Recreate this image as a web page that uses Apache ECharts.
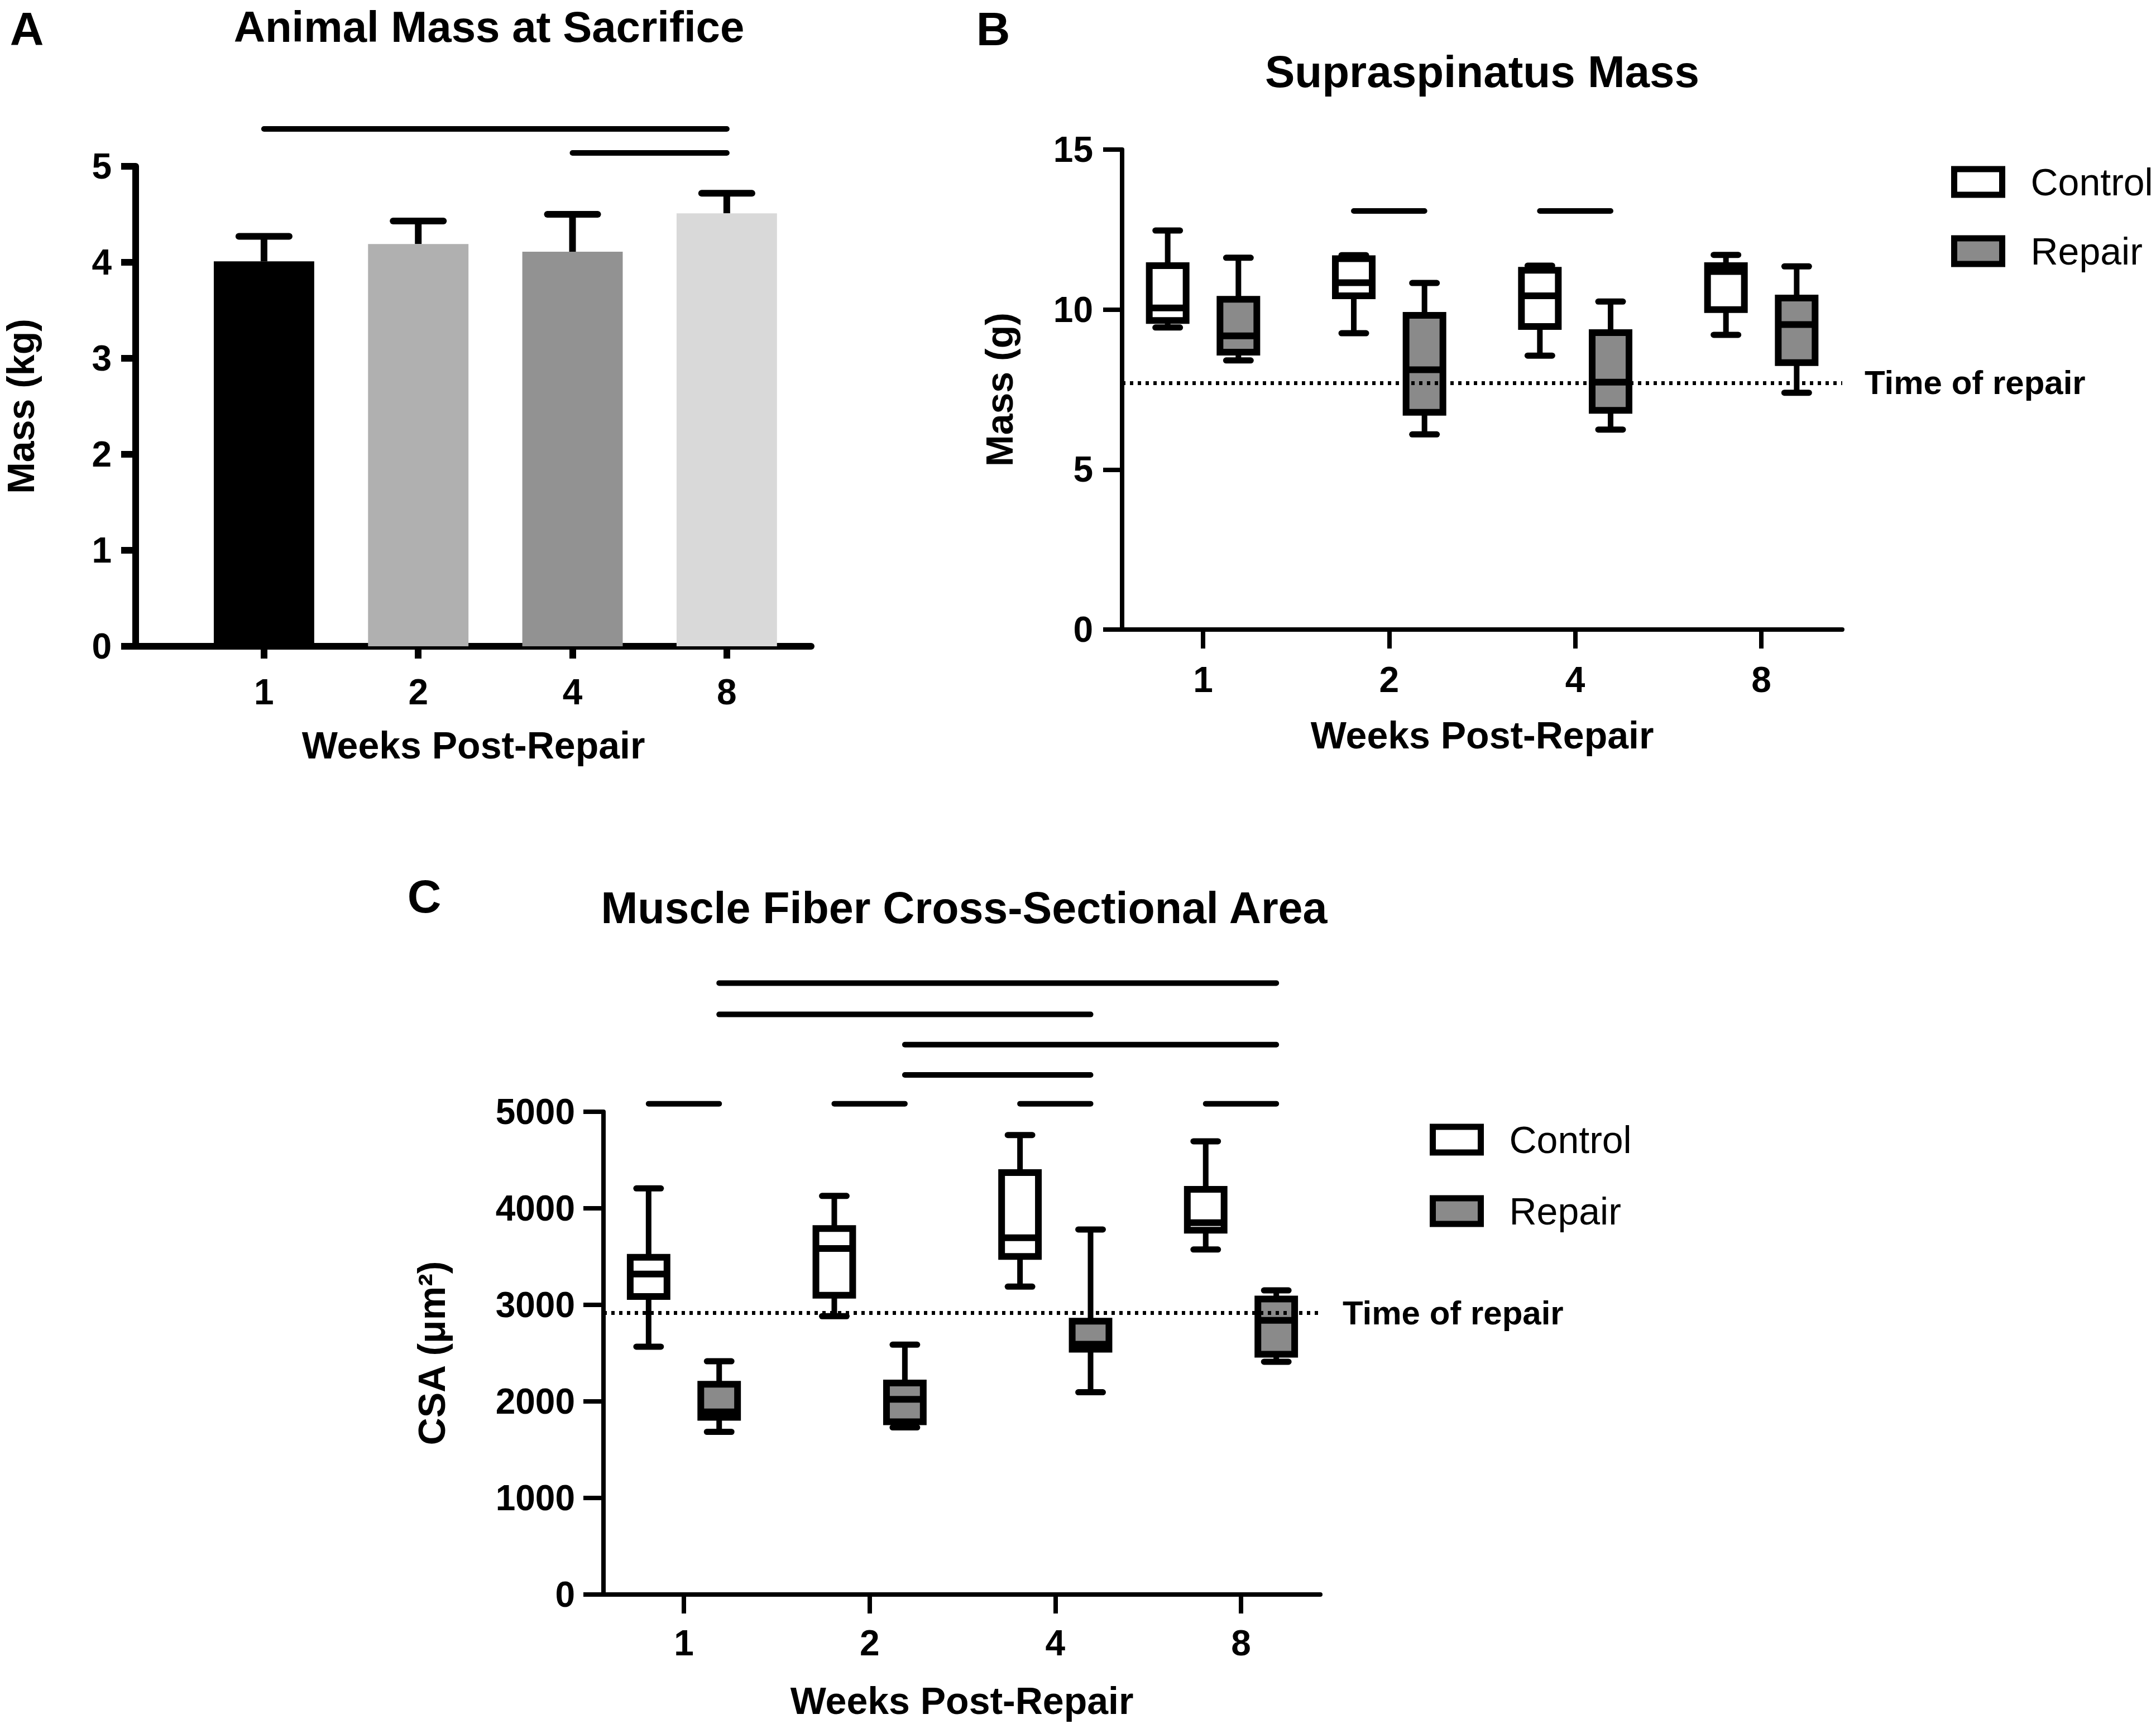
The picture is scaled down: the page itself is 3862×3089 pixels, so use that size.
<!DOCTYPE html>
<html>
<head>
<meta charset="utf-8">
<script src="https://cdn.jsdelivr.net/npm/echarts@6/dist/echarts.min.js"></script>
<style>
html, body { margin: 0; padding: 0; background: #fff; }
#main { width: 3862px; height: 3089px; }
</style>
</head>
<body>
<div id="main"></div>
<script>
// ---- data ----
var weeks = ['1', '2', '4', '8'];

// A: animal mass at sacrifice (kg): mean and top of error bar
var animalMass = [4.01, 4.19, 4.11, 4.51];
var animalMassErr = [4.27, 4.43, 4.50, 4.72];
var animalColors = ['#000000', '#b0b0b0', '#929292', '#d9d9d9'];
// [from week, to week, height]
var animalSig = [[0, 3, 5.39], [2, 3, 5.14]];

// B: supraspinatus mass (g): [min, q1, median, q3, max]
var supraControl = [
  [9.44, 9.66, 10.05, 11.37, 12.47],
  [9.26, 10.43, 10.84, 11.59, 11.70],
  [8.56, 9.47, 10.43, 11.23, 11.37],
  [9.21, 10.00, 11.19, 11.37, 11.71]
];
var supraRepair = [
  [8.41, 8.67, 9.18, 10.32, 11.62],
  [6.10, 6.79, 8.12, 9.82, 10.83],
  [6.25, 6.85, 7.73, 9.28, 10.25],
  [7.40, 8.34, 9.53, 10.36, 11.35]
];
var supraRepairTime = 7.71;
// [week, group, week, group, height]  group 0 = control, 1 = repair
var supraSig = [[1, 0, 1, 1, 13.08], [2, 0, 2, 1, 13.08]];

// C: muscle fiber CSA (um2): [min, q1, median, q3, max]
var csaControl = [
  [2567, 3086, 3319, 3493, 4206],
  [2883, 3099, 3584, 3791, 4128],
  [3189, 3501, 3695, 4370, 4759],
  [3573, 3773, 3851, 4196, 4694]
];
var csaRepair = [
  [1685, 1835, 1892, 2178, 2416],
  [1731, 1789, 2022, 2191, 2588],
  [2095, 2541, 2593, 2831, 3781],
  [2411, 2489, 2839, 3060, 3150]
];
var csaRepairTime = 2917;
var csaSig = [
  [0, 1, 3, 1, 6333], [0, 1, 2, 1, 6008], [1, 1, 3, 1, 5695], [1, 1, 2, 1, 5381],
  [0, 0, 0, 1, 5083], [1, 0, 1, 1, 5083], [2, 0, 2, 1, 5083], [3, 0, 3, 1, 5083]
];

// ---- drawing ----
var FONT = '"Liberation Sans", Arial, Helvetica, sans-serif';
var GROUP_OFF = 0.19;   // control / repair offset from week tick
var BOX_W = 0.198;
var CAP_W = 0.132;
var BAR_W = 0.651;
var ERR_CAP = 0.326;

var chart = echarts.init(document.getElementById('main'), null, { renderer: 'svg' });

function xAxisCfg(grid, min, max, labelMargin, nameGap, lw, tickLen) {
  return {
    gridIndex: grid, type: 'value', min: min, max: max,
    name: 'Weeks Post-Repair', nameLocation: 'middle', nameGap: nameGap,
    nameTextStyle: { fontSize: 68, fontWeight: 'bold', color: '#000', fontFamily: FONT },
    axisLine: { onZero: false, lineStyle: { color: '#000', width: lw } },
    axisTick: { customValues: [0, 1, 2, 3], length: tickLen, lineStyle: { color: '#000', width: lw } },
    axisLabel: {
      customValues: [0, 1, 2, 3], margin: labelMargin,
      formatter: function (v) { return weeks[Math.round(v)]; },
      fontSize: 64, fontWeight: 'bold', color: '#000', fontFamily: FONT
    },
    splitLine: { show: false }
  };
}

function yAxisCfg(grid, max, interval, name, labelMargin, nameGap, lw, tickLen) {
  return {
    gridIndex: grid, type: 'value', min: 0, max: max, interval: interval,
    name: name, nameLocation: 'middle', nameGap: nameGap,
    nameTextStyle: { fontSize: 68, fontWeight: 'bold', color: '#000', fontFamily: FONT },
    axisLine: { show: true, onZero: false, lineStyle: { color: '#000', width: lw } },
    axisTick: { show: true, length: tickLen, lineStyle: { color: '#000', width: lw } },
    axisLabel: { margin: labelMargin, fontSize: 64, fontWeight: 'bold', color: '#000', fontFamily: FONT,
      formatter: function (v) { return String(v); } },
    splitLine: { show: false }
  };
}

function barRender(params, api) {
  var i = api.value(0);
  var top = api.coord([i, api.value(1)]);
  var base = api.coord([i, 0]);
  var err = api.coord([i, api.value(2)]);
  var unit = api.size([1, 0])[0];
  var bw = unit * BAR_W / 2, cw = unit * ERR_CAP / 2;
  return {
    type: 'group', children: [
      { type: 'line', shape: { x1: top[0], y1: top[1], x2: top[0], y2: err[1] },
        style: { stroke: '#000', lineWidth: 12 } },
      { type: 'line', shape: { x1: top[0] - cw, y1: err[1], x2: top[0] + cw, y2: err[1] },
        style: { stroke: '#000', lineWidth: 12, lineCap: 'round' } },
      { type: 'rect', shape: { x: top[0] - bw, y: top[1], width: 2 * bw, height: base[1] - top[1] },
        style: { fill: api.visual('color') } }
    ]
  };
}

function boxRender(offset) {
  return function (params, api) {
    var i = api.value(0) + offset;
    var lo = api.coord([i, api.value(1)]);
    var q1 = api.coord([i, api.value(2)]);
    var md = api.coord([i, api.value(3)]);
    var q3 = api.coord([i, api.value(4)]);
    var hi = api.coord([i, api.value(5)]);
    var unit = api.size([1, 0])[0];
    var bw = unit * BOX_W / 2, cw = unit * CAP_W / 2;
    var x = lo[0];
    return {
      type: 'group', children: [
        { type: 'line', shape: { x1: x, y1: hi[1], x2: x, y2: q3[1] }, style: { stroke: '#000', lineWidth: 10 } },
        { type: 'line', shape: { x1: x, y1: q1[1], x2: x, y2: lo[1] }, style: { stroke: '#000', lineWidth: 10 } },
        { type: 'line', shape: { x1: x - cw, y1: hi[1], x2: x + cw, y2: hi[1] }, style: { stroke: '#000', lineWidth: 11, lineCap: 'round' } },
        { type: 'line', shape: { x1: x - cw, y1: lo[1], x2: x + cw, y2: lo[1] }, style: { stroke: '#000', lineWidth: 11, lineCap: 'round' } },
        { type: 'rect', shape: { x: x - bw, y: q3[1], width: 2 * bw, height: q1[1] - q3[1] },
          style: { fill: api.visual('color'), stroke: '#000', lineWidth: 12 } },
        { type: 'line', shape: { x1: x - bw, y1: md[1], x2: x + bw, y2: md[1] }, style: { stroke: '#000', lineWidth: 12 } }
      ]
    };
  };
}

function sigRenderA(params, api) {
  var a = api.coord([api.value(0), api.value(2)]);
  var b = api.coord([api.value(1), api.value(2)]);
  return { type: 'line', shape: { x1: a[0], y1: a[1], x2: b[0], y2: b[1] },
    style: { stroke: '#000', lineWidth: 10, lineCap: 'round' } };
}

function sigRenderGroups(params, api) {
  var x1 = api.value(0) + (api.value(1) ? GROUP_OFF : -GROUP_OFF);
  var x2 = api.value(2) + (api.value(3) ? GROUP_OFF : -GROUP_OFF);
  var a = api.coord([x1, api.value(4)]);
  var b = api.coord([x2, api.value(4)]);
  return { type: 'line', shape: { x1: a[0], y1: a[1], x2: b[0], y2: b[1] },
    style: { stroke: '#000', lineWidth: 10, lineCap: 'round' } };
}

function boxData(rows) {
  return rows.map(function (r, i) { return [i].concat(r); });
}

function refLine(xi, value) {
  return {
    type: 'line', xAxisIndex: xi, yAxisIndex: xi, data: [], silent: true,
    markLine: {
      silent: true, symbol: ['none', 'none'], animation: false,
      lineStyle: { color: '#000', width: 7, type: [6, 8] },
      label: { show: true, position: 'end', distance: 40, formatter: 'Time of repair',
        fontSize: 60, fontWeight: 'bold', color: '#000', fontFamily: FONT },
      data: [{ yAxis: value }]
    }
  };
}

function legendCfg(left, top, gap) {
  return {
    orient: 'vertical', left: left, top: top, padding: 0, selectedMode: false,
    data: ['Control', 'Repair'], icon: 'rect', itemWidth: 86, itemHeight: 46, itemGap: gap,
    itemStyle: { borderColor: '#000', borderWidth: 11 },
    textStyle: { fontSize: 68, color: '#000', fontFamily: FONT, padding: [0, 0, 0, 46] }
  };
}

function textEl(str, x, y, size, rotation) {
  return {
    type: 'text', x: x, y: y, rotation: rotation || 0,
    style: { text: str, fill: '#000', fontSize: size, fontWeight: 'bold', fontFamily: FONT,
      align: 'center', verticalAlign: 'middle', textAlign: 'center', textVerticalAlign: 'middle' }
  };
}

var option = {
  animation: false,
  backgroundColor: '#fff',
  grid: [
    { left: 243, top: 298, width: 1210, height: 860 },
    { left: 2010, top: 268, width: 1290, height: 860 },
    { left: 1081, top: 1992, width: 1284, height: 865 }
  ],
  xAxis: [
    xAxisCfg(0, -0.832, 3.547, 50, 143, 12, 22),
    xAxisCfg(1, -0.435, 3.435, 58, 155, 8, 34),
    xAxisCfg(2, -0.433, 3.427, 55, 156, 8, 34)
  ],
  yAxis: [
    yAxisCfg(0, 5, 1, 'Mass (kg)', 43, 172, 12, 26),
    yAxisCfg(1, 15, 5, 'Mass (g)', 52, 186, 8, 34),
    yAxisCfg(2, 5000, 1000, 'CSA (\u03bcm\u00b2)', 51, 274, 8, 36)
  ],
  legend: [legendCfg(3495, 292, 56), legendCfg(2561, 2008, 60)],
  graphic: [
    textEl('A', 48, 52, 84),
    textEl('Animal Mass at Sacrifice', 876, 48, 78),
    textEl('B', 1779, 52, 84),
    textEl('Supraspinatus Mass', 2655, 128, 80),
    textEl('C', 760, 1606, 84),
    textEl('Muscle Fiber Cross-Sectional Area', 1727, 1626, 79)
  ],
  series: [
    {
      name: 'Animal mass', type: 'custom', xAxisIndex: 0, yAxisIndex: 0, clip: false,
      renderItem: barRender, encode: { x: 0, y: [1, 2] },
      data: weeks.map(function (w, i) {
        return { value: [i, animalMass[i], animalMassErr[i]], itemStyle: { color: animalColors[i] } };
      })
    },
    {
      name: 'sigA', type: 'custom', xAxisIndex: 0, yAxisIndex: 0, clip: false,
      renderItem: sigRenderA, encode: { x: [0, 1], y: 2 }, data: animalSig
    },
    {
      name: 'Control', type: 'custom', xAxisIndex: 1, yAxisIndex: 1, clip: false,
      itemStyle: { color: '#ffffff' }, renderItem: boxRender(-GROUP_OFF),
      encode: { x: 0, y: [1, 2, 3, 4, 5] }, data: boxData(supraControl)
    },
    {
      name: 'Repair', type: 'custom', xAxisIndex: 1, yAxisIndex: 1, clip: false,
      itemStyle: { color: '#8a8a8a' }, renderItem: boxRender(GROUP_OFF),
      encode: { x: 0, y: [1, 2, 3, 4, 5] }, data: boxData(supraRepair)
    },
    {
      name: 'sigB', type: 'custom', xAxisIndex: 1, yAxisIndex: 1, clip: false,
      renderItem: sigRenderGroups, encode: { x: [0, 2], y: 4 }, data: supraSig
    },
    refLine(1, supraRepairTime),
    {
      name: 'Control', type: 'custom', xAxisIndex: 2, yAxisIndex: 2, clip: false,
      itemStyle: { color: '#ffffff' }, renderItem: boxRender(-GROUP_OFF),
      encode: { x: 0, y: [1, 2, 3, 4, 5] }, data: boxData(csaControl)
    },
    {
      name: 'Repair', type: 'custom', xAxisIndex: 2, yAxisIndex: 2, clip: false,
      itemStyle: { color: '#8a8a8a' }, renderItem: boxRender(GROUP_OFF),
      encode: { x: 0, y: [1, 2, 3, 4, 5] }, data: boxData(csaRepair)
    },
    {
      name: 'sigC', type: 'custom', xAxisIndex: 2, yAxisIndex: 2, clip: false,
      renderItem: sigRenderGroups, encode: { x: [0, 2], y: 4 }, data: csaSig
    },
    refLine(2, csaRepairTime)
  ]
};

chart.setOption(option);
</script>
</body>
</html>
